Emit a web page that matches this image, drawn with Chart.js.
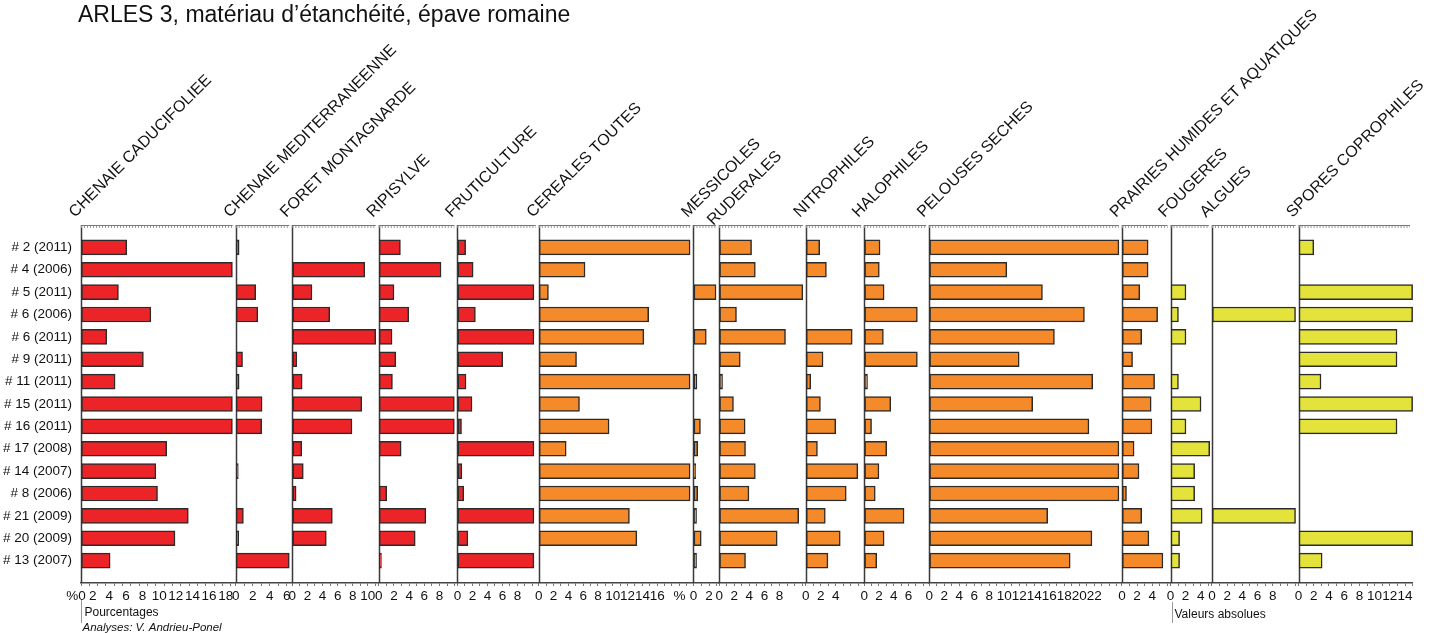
<!DOCTYPE html>
<html lang="fr">
<head>
<meta charset="utf-8">
<title>ARLES 3</title>
<script src="https://cdn.jsdelivr.net/npm/chart.js@4.4.1/dist/chart.umd.min.js"></script>
<style>
    html, body { margin: 0; padding: 0; background: #fff; overflow: hidden; }
    #cadre { position: relative; width: 1434px; height: 633px; }
</style>
</head>
<body>
<div id="cadre"><canvas id="diagramme"></canvas></div>
<script>
const titre = 'ARLES 3, matériau d’étanchéité, épave romaine';

const echantillons = ['# 2 (2011)', '# 4 (2006)', '# 5 (2011)', '# 6 (2006)', '# 6 (2011)', '# 9 (2011)', '# 11 (2011)',
    '# 15 (2011)', '# 16 (2011)', '# 17 (2008)', '# 14 (2007)', '# 8 (2006)', '# 21 (2009)', '# 20 (2009)', '# 13 (2007)'];

const groupes = ['CHENAIE CADUCIFOLIEE', 'CHENAIE MEDITERRANEENNE', 'FORET MONTAGNARDE', 'RIPISYLVE', 'FRUTICULTURE',
    'CEREALES TOUTES', 'MESSICOLES', 'RUDERALES', 'NITROPHILES', 'HALOPHILES', 'PELOUSES SECHES',
    'PRAIRIES HUMIDES ET AQUATIQUES', 'FOUGERES', 'ALGUES', 'SPORES COPROPHILES'];

// valeurs lues sur le diagramme (null = pas de barre)
const chenaieCaducifoliee = [5.5, 18.2, 4.5, 8.4, 3.1, 7.5, 4.1, 18.2, 18.2, 10.3, 9.0, 9.2, 12.9, 11.3, 3.5];
const chenaieMediterraneenne = [0.4, null, 2.35, 2.6, null, 0.8, 0.4, 3.1, 3.05, null, 0.3, null, 0.9, 0.35, 6.3];
const foretMontagnarde = [null, 9.6, 2.6, 4.95, 11.05, 0.6, 1.3, 9.2, 7.9, 1.25, 1.45, 0.5, 5.3, 4.5, null];
const ripisylve = [2.85, 8.2, 2.0, 3.95, 1.75, 2.25, 1.8, 9.95, 9.95, 2.95, null, 1.05, 6.2, 4.8, 0.35];
const fruticulture = [1.1, 2.1, 10.2, 2.4, 10.2, 6.05, 1.15, 1.95, 0.55, 10.2, 0.6, 0.85, 10.2, 1.4, 10.2];
const cerealesToutes = [20.45, 6.25, 1.3, 14.85, 14.2, 5.1, 20.45, 5.5, 9.5, 3.7, 20.45, 20.45, 12.25, 13.25, null];
const messicoles = [null, null, 2.9, null, 1.65, null, 0.45, null, 0.9, 0.55, 0.3, 0.55, 0.4, 1.0, 0.4];
const ruderales = [4.3, 4.8, 11.1, 2.3, 8.8, 2.8, 0.45, 1.9, 3.45, 3.5, 4.8, 3.95, 10.55, 7.7, 3.5];
const nitrophiles = [1.85, 2.75, null, null, 6.2, 2.3, 0.65, 1.95, 4.0, 1.55, 6.95, 5.4, 2.6, 4.6, 2.95];
const halophiles = [2.15, 2.05, 2.7, 7.2, 2.6, 7.2, 0.45, 3.6, 1.0, 3.05, 2.0, 1.5, 5.4, 2.7, 1.7];
const pelousesSeches = [25.3, 10.35, 15.1, 20.7, 16.7, 12.0, 21.8, 13.8, 21.3, 25.3, 25.3, 25.3, 15.8, 21.7, 18.8];
const prairiesHumides = [3.45, 3.45, 2.35, 4.7, 2.6, 1.4, 4.3, 3.85, 3.95, 1.6, 2.25, 0.6, 2.6, 3.55, 5.4];
const fougeres = [null, null, 2.05, 1.05, 2.05, null, 1.05, 4.05, 2.05, 5.2, 3.2, 3.2, 4.2, 1.2, 1.2];
const algues = [null, null, null, 11.0, null, null, null, null, null, null, null, null, 11.0, null, null];
const sporesCoprophiles = [2.0, null, 15, 15, 12.95, 12.95, 2.95, 15, 12.95, null, null, null, null, 15, 3.1];

const series = [chenaieCaducifoliee, chenaieMediterraneenne, foretMontagnarde, ripisylve, fruticulture,
    cerealesToutes, messicoles, ruderales, nitrophiles, halophiles, pelousesSeches,
    prairiesHumides, fougeres, algues, sporesCoprophiles];

// bornes des axes et dernier tick numéroté de chaque panneau
const maxAxes = [18.6, 6.66, 11.45, 10.35, 10.85, 20.9, 3.3, 11.5, 7.8, 8.8, 25.7, 6.4, 5.5, 11.4, 15.05];
const dernierTick = [18, 6, 10, 8, 8, 16, 2, 8, 4, 6, 22, 4, 4, 8, 14];

// mise en page : largeur de chaque panneau (px) et couleurs
const largeurs = [154.7, 56.6, 86.4, 78.6, 81.4, 154.6, 25.7, 86.7, 58.3, 65, 192.7, 48.6, 41.4, 86.6, 114.4];
const ROUGE = '#ec2427', ORANGE = '#f48a29', JAUNE = '#e4e33c';
const couleurs = [ROUGE, ROUGE, ROUGE, ROUGE, ROUGE, ORANGE, ORANGE, ORANGE, ORANGE, ORANGE, ORANGE, ORANGE, JAUNE, JAUNE, JAUNE];
const decalageEtiquette = { 7: 8 };

const POLICE = '"Liberation Sans", Arial, Helvetica, sans-serif';

function libelleTick(i, v) {
    if (i === 0 && v === 0) return '%0';
    if (i === 5 && v === 19) return '%';
    if (v % 2 !== 0 || v > dernierTick[i]) return '';
    return String(v);
}

const echelles = {
    y: {
        type: 'linear',
        reverse: true,
        offset: false,
        min: -1,
        max: 15,
        afterBuildTicks: s => { s.ticks = echantillons.map((_, k) => ({ value: k })); },
        afterFit: s => { s.width = 81; },
        grid: { display: false, drawTicks: false, tickLength: 0 },
        border: { display: true, color: '#aaa', width: 1 },
        ticks: {
            padding: 9,
            color: '#111',
            font: { family: POLICE, size: 13.5 },
            callback: v => echantillons[v]
        }
    }
};

series.forEach((s, i) => {
    echelles['x' + i] = {
        type: 'linear',
        position: 'bottom',
        axis: 'x',
        stack: 'panneaux',
        stackWeight: largeurs[i],
        min: 0,
        max: maxAxes[i],
        afterBuildTicks: sc => {
            const t = [];
            for (let v = 0; v <= Math.floor(maxAxes[i]); v++) t.push({ value: v });
            sc.ticks = t;
        },
        afterFit: sc => { sc.height = 50; },
        grid: { display: true, drawOnChartArea: false, drawTicks: true, tickLength: 3, color: '#777', lineWidth: 1 },
        border: { display: true, color: '#444', width: 1.5 },
        ticks: {
            autoSkip: false,
            minRotation: 0,
            maxRotation: 0,
            padding: 2,
            labelOffset: i === 0 ? -5 : 0,
            color: '#111',
            font: { family: POLICE, size: 13.5 },
            callback: v => libelleTick(i, v)
        }
    };
});

const jeux = series.map((s, i) => ({
    label: groupes[i],
    data: s.map((v, k) => ({ x: v, y: k })),
    xAxisID: 'x' + i,
    yAxisID: 'y',
    backgroundColor: couleurs[i],
    borderColor: '#2b2b2b',
    borderWidth: 1.5,
    borderSkipped: false,
    barThickness: 15,
    grouped: false
}));

const decor = {
    id: 'decor',
    beforeDatasetsDraw(chart) {
        const ctx = chart.ctx;
        const zone = chart.chartArea;
        ctx.save();
        series.forEach((s, i) => {
            const sc = chart.scales['x' + i];
            const x = Math.round(sc.left) + 0.5;
            ctx.strokeStyle = '#3a3a3a';
            ctx.lineWidth = 1.5;
            ctx.beginPath();
            ctx.moveTo(x, zone.top);
            ctx.lineTo(x, zone.bottom);
            ctx.stroke();

            ctx.strokeStyle = '#777';
            ctx.lineWidth = 1;
            ctx.beginPath();
            ctx.moveTo(sc.left, zone.top + 0.5);
            ctx.lineTo(sc.right - 3, zone.top + 0.5);
            ctx.stroke();
            ctx.setLineDash([1, 2]);
            ctx.lineWidth = 2;
            ctx.strokeStyle = '#999';
            ctx.beginPath();
            ctx.moveTo(sc.left, zone.top + 2);
            ctx.lineTo(sc.right - 3, zone.top + 2);
            ctx.stroke();
            ctx.setLineDash([]);
        });
        ctx.restore();
    },
    afterDraw(chart) {
        const ctx = chart.ctx;
        const zone = chart.chartArea;
        ctx.save();
        ctx.fillStyle = '#111';
        ctx.textAlign = 'left';
        ctx.textBaseline = 'middle';
        ctx.font = '23px ' + POLICE;
        ctx.fillText(titre, 78, 16);

        ctx.font = '16px ' + POLICE;
        ctx.textBaseline = 'alphabetic';
        groupes.forEach((g, i) => {
            const sc = chart.scales['x' + i];
            ctx.save();
            ctx.translate(sc.left - 6, zone.top - 7 + (decalageEtiquette[i] || 0));
            ctx.rotate(-Math.PI / 4);
            ctx.fillText(g, 0, 0);
            ctx.restore();
        });

        // légendes du bas
        ctx.strokeStyle = '#999';
        ctx.lineWidth = 1;
        const xPct = Math.round(chart.scales.x0.left) + 0.5;
        const xAbs = Math.round(chart.scales.x12.left) + 1.5;
        ctx.beginPath();
        ctx.moveTo(xPct, zone.bottom + 17);
        ctx.lineTo(xPct, zone.bottom + 40);
        ctx.moveTo(xAbs, zone.bottom + 19);
        ctx.lineTo(xAbs, zone.bottom + 40);
        ctx.stroke();

        ctx.textBaseline = 'middle';
        ctx.font = '12px ' + POLICE;
        ctx.fillText('Pourcentages', xPct + 3, zone.bottom + 30);
        ctx.fillText('Valeurs absolues', xAbs + 2, zone.bottom + 32);
        ctx.font = 'italic 11.5px ' + POLICE;
        ctx.fillText('Analyses: V. Andrieu-Ponel', xPct + 1, zone.bottom + 45);
        ctx.restore();
    }
};

document.addEventListener('DOMContentLoaded', function() {
    const ctx = document.getElementById('diagramme').getContext('2d');
    new Chart(ctx, {
        type: 'bar',
        data: { datasets: jeux },
        options: {
            indexAxis: 'y',
            responsive: true,
            maintainAspectRatio: false,
            animation: false,
            layout: { padding: { top: 225, right: 21, bottom: 0, left: 0 } },
            scales: echelles,
            plugins: {
                legend: { display: false },
                tooltip: { enabled: false },
                title: { display: false }
            }
        },
        plugins: [decor]
    });
});
</script>
</body>
</html>
